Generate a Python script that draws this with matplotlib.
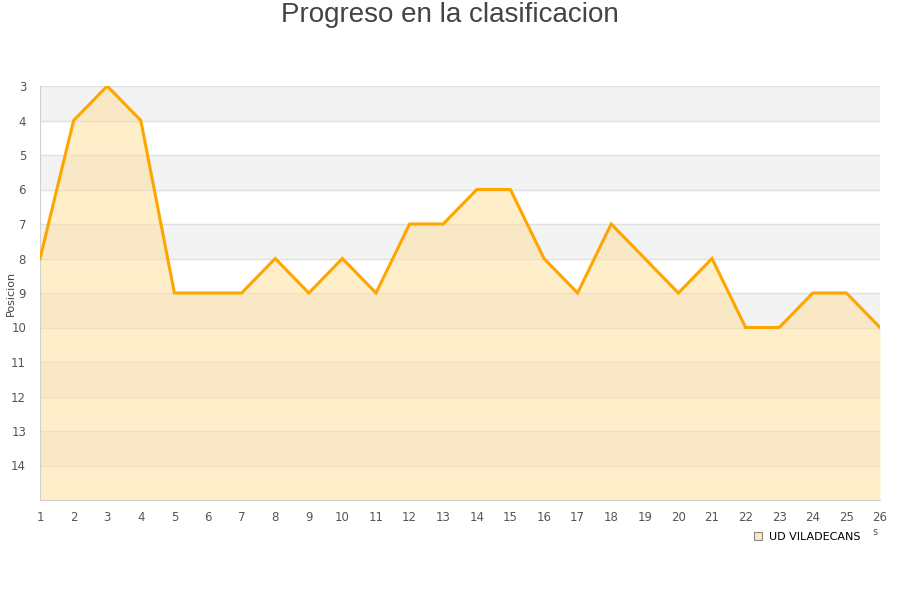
import matplotlib
matplotlib.use("Agg")
import matplotlib.pyplot as plt
from matplotlib.lines import Line2D

jornadas = list(range(1, 27))
posiciones = [8, 4, 3, 4, 9, 9, 9, 8, 9, 8, 9, 7, 7, 6, 6, 8, 9, 7, 8, 9, 8, 10, 10, 9, 9, 10]
team = "UD VILADECANS"
y_ticks = list(range(3, 15))

fig = plt.figure(figsize=(9, 6), dpi=100)
ax = fig.add_axes([40/900, 100/600, 840/900, 414/600])

ymin, ymax = 3, 15
for k in range(3, 15, 2):
    ax.axhspan(k, k + 1, color="#f3f3f3", zorder=0, lw=0)
for k in range(3, 16):
    ax.axhline(k, color="#e0e0e0", lw=1, zorder=1)

ax.fill_between(jornadas, posiciones, ymax, color="#ffe0a0", alpha=0.55, lw=0, zorder=2)
ax.plot(jornadas, posiciones, color="#ffa500", lw=2.2, zorder=3, solid_joinstyle="miter")

ax.set_xlim(1, 26)
ax.set_ylim(ymax, ymin)
ax.set_xticks(jornadas)
ax.set_yticks(y_ticks)
ax.tick_params(axis="both", length=0, labelsize=8.5, labelcolor="#555555")
ax.tick_params(axis="x", pad=8)
ax.tick_params(axis="y", pad=10)
for s in ["top", "right"]:
    ax.spines[s].set_visible(False)
for s in ["left", "bottom"]:
    ax.spines[s].set_color("#d0d0d0")

fig.text(11/900, 1 - 293/600, "Posicion", fontsize=8, color="#444444",
         rotation=90, ha="center", va="center")

fig.text(0.5, 1 - 15/600, "Progreso en la clasificacion", ha="center", va="center",
         fontsize=20, color="#444444", family="Liberation Sans")

handle = Line2D([], [], marker="s", linestyle="none", markersize=6,
                markerfacecolor="#ffe8c0", markeredgecolor="#888888", markeredgewidth=0.8)
leg = fig.legend([handle], [team], loc="center left", bbox_to_anchor=(746/900, 1 - 537/600),
                 frameon=False, fontsize=8, handletextpad=0.4, borderpad=0, handlelength=1.2)
fig.text(875/900, 1 - 532/600, "s", fontsize=7, color="#555555", ha="center", va="center")

fig.savefig("out.png", dpi=100, facecolor="white")
